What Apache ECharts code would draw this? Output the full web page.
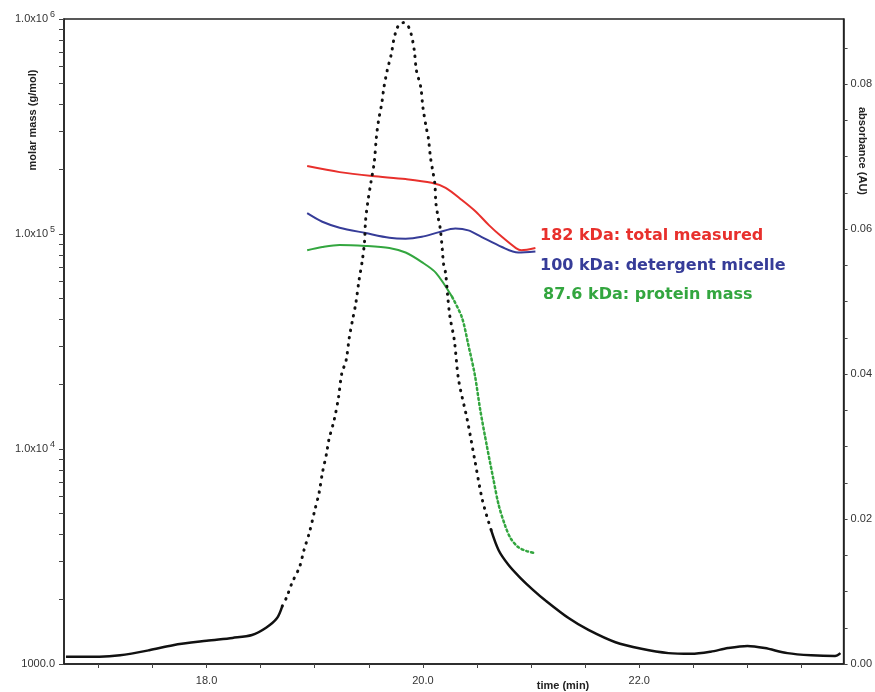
<!DOCTYPE html>
<html>
<head>
<meta charset="utf-8">
<script src="https://cdn.jsdelivr.net/npm/echarts@6/dist/echarts.min.js"></script>
<style>
html,body{margin:0;padding:0;background:#fff;}
#chart{width:875px;height:692px;}
</style>
</head>
<body>
<div id="chart"></div>
<script>
// ---- data ----
const timeAbs = [16.70,17.01,17.20,17.47,17.69,18.00,18.24,18.42,18.55,18.65,18.70,18.74,18.79,18.86,18.90,18.95,19.00,19.04,19.07,19.11,19.13,19.18,19.22,19.25,19.29,19.32,19.35,19.38,19.41,19.44,19.46,19.47,19.49,19.52,19.55,19.57,19.59,19.62,19.64,19.67,19.71,19.73,19.76,19.79,19.82,19.86,19.89,19.92,19.94,19.98,20.00,20.03,20.05,20.07,20.09,20.11,20.12,20.14,20.16,20.18,20.19,20.21,20.23,20.25,20.29,20.33,20.41,20.48,20.55,20.63,20.70,20.79,20.90,21.02,21.13,21.35,21.53,21.78,22.02,22.27,22.48,22.66,22.82,23.00,23.16,23.37,23.59,23.81,23.86];
const absorbance = [0.0010,0.0010,0.0012,0.0019,0.0026,0.0032,0.0036,0.0040,0.0050,0.0063,0.0080,0.0092,0.0112,0.0134,0.0157,0.0181,0.0212,0.0236,0.0263,0.0291,0.0309,0.0337,0.0368,0.0401,0.0419,0.0451,0.0475,0.0498,0.0530,0.0557,0.0582,0.0612,0.0637,0.0665,0.0692,0.0727,0.0750,0.0774,0.0796,0.0819,0.0843,0.0861,0.0877,0.0884,0.0885,0.0881,0.0870,0.0847,0.0819,0.0796,0.0768,0.0741,0.0726,0.0699,0.0681,0.0663,0.0636,0.0617,0.0601,0.0571,0.0553,0.0539,0.0506,0.0479,0.0447,0.0392,0.0337,0.0281,0.0226,0.0185,0.0157,0.0137,0.0119,0.0102,0.0088,0.0063,0.0047,0.0030,0.0021,0.0015,0.0014,0.0017,0.0022,0.0025,0.0022,0.0015,0.0012,0.0011,0.0015];

const timeTotal = [18.93,19.23,19.53,19.84,20.08,20.21,20.36,20.49,20.61,20.73,20.86,20.91,21.04];
const totalMass = [207000,194000,186000,180000,173000,164000,144000,127000,110000,97000,86000,84000,86000];

const timeMicelle = [18.93,19.07,19.23,19.47,19.69,19.84,19.99,20.15,20.30,20.42,20.54,20.73,20.88,21.04];
const micelleMass = [125000,114000,107000,101000,96000,95000,97000,102000,106000,104000,97000,87000,82000,83000];

const timeProtein = [18.93,19.07,19.23,19.47,19.69,19.84,19.99,20.12,20.27,20.36,20.42,20.48,20.53,20.59,20.65,20.70,20.76,20.81,20.88,20.96,21.04];
const proteinMass = [84000,87000,89000,88000,86000,82000,74000,66000,51000,41000,30500,22100,15200,10400,7300,5500,4400,3850,3500,3350,3280];

const xTickValues = [17.0,17.5,18.0,18.5,19.0,19.5,20.0,20.5,21.0,21.5,22.0,22.5,23.0,23.5];
const xLabelValues = [18.0,20.0,22.0];
const massTickValues = [1000,2000,3000,4000,5000,6000,7000,8000,9000,10000,20000,30000,40000,50000,60000,70000,80000,90000,100000,200000,300000,400000,500000,600000,700000,800000,900000,1000000];
const massLabelValues = [1000,10000,100000,1000000];
const absTickValues = [0,0.005,0.01,0.015,0.02,0.025,0.03,0.035,0.04,0.045,0.05,0.055,0.06,0.065,0.07,0.075,0.08,0.085];
const absLabelValues = [0,0.02,0.04,0.06,0.08];
const legendTexts = ['182 kDa: total measured','100 kDa: detergent micelle','87.6 kDa: protein mass'];

// ---- build ----
const DOT_START = 18.70, DOT_END = 20.63;
const absSolid = timeAbs.map((t,i)=> (t<=DOT_START || t>=DOT_END) ? [t, absorbance[i]] : [t, null]);
const absDotted = timeAbs.map((t,i)=> (t>=DOT_START && t<=DOT_END) ? [t, absorbance[i]] : [t, null]);
const P_DOT = 20.30;
const protSolid = timeProtein.map((t,i)=> t<=P_DOT ? [t, proteinMass[i]] : [t, null]);
const protDotted = timeProtein.map((t,i)=> t>=20.27 ? [t, proteinMass[i]] : [t, null]);
const zipPairs = (a,b)=> a.map((t,i)=>[t,b[i]]);

const RED='#e8302c', BLUE='#363c98', GREEN='#33a63f';
const FONT='Liberation Sans, Arial, sans-serif';

const chart = echarts.init(document.getElementById('chart'), null, {renderer:'canvas'});
chart.setOption({
  animation:false,
  backgroundColor:'#ffffff',
  grid:{left:64,right:29,top:19,bottom:28,show:true,borderColor:'#222',borderWidth:1.5,backgroundColor:'transparent'},
  xAxis:{
    type:'value', min:16.682, max:23.889,
    axisLine:{show:true,lineStyle:{color:'#222',width:1.5}},
    axisTick:{show:true,customValues:xTickValues,length:4,lineStyle:{color:'#444',width:1}},
    axisLabel:{customValues:xLabelValues,formatter:v=>Number(v).toFixed(1),fontSize:11,color:'#333',margin:11,fontFamily:FONT},
    splitLine:{show:false}
  },
  yAxis:[{
    type:'log', logBase:10, min:1000, max:1000000, position:'left',
    axisLine:{show:true,lineStyle:{color:'#222',width:1.5}},
    axisTick:{show:true,customValues:massTickValues,length:5,lineStyle:{color:'#444',width:1}},
    axisLabel:{customValues:massLabelValues,margin:9,color:'#333',fontFamily:FONT,fontSize:11,
      formatter:function(v){ if(v<=1000.5) return '1000.0'; return '{a|1.0x10}{e|'+Math.round(Math.log10(v))+'}'; },
      rich:{a:{fontSize:11,color:'#333',fontFamily:FONT},e:{fontSize:9,color:'#333',fontFamily:FONT,padding:[0,0,8,2]}}},
    splitLine:{show:false}
  },{
    type:'value', min:0, max:0.089, position:'right',
    axisLine:{show:true,lineStyle:{color:'#222',width:1.5}},
    axisTick:{show:true,customValues:absTickValues,length:4,lineStyle:{color:'#444',width:1}},
    axisLabel:{customValues:absLabelValues,formatter:v=>Number(v).toFixed(2),fontSize:11,color:'#333',margin:7,fontFamily:FONT},
    splitLine:{show:false}
  }],
  graphic:[
    {type:'text',x:33,y:120,rotation:Math.PI/2,style:{text:'molar mass (g/mol)',font:'bold 11px '+FONT,fill:'#222',align:'center',verticalAlign:'middle'}},
    {type:'text',x:862,y:151,rotation:-Math.PI/2,style:{text:'absorbance (AU)',font:'bold 11px '+FONT,fill:'#222',align:'center',verticalAlign:'middle'}},
    {type:'text',x:563,y:686,style:{text:'time (min)',font:'bold 11px '+FONT,fill:'#222',align:'center',verticalAlign:'middle'}},
    {type:'text',x:540,y:236,style:{text:legendTexts[0],font:'bold 16px DejaVu Sans',fill:RED,align:'left',verticalAlign:'middle'}},
    {type:'text',x:540,y:266,style:{text:legendTexts[1],font:'bold 16px DejaVu Sans',fill:BLUE,align:'left',verticalAlign:'middle'}},
    {type:'text',x:543,y:295,style:{text:legendTexts[2],font:'bold 16px DejaVu Sans',fill:GREEN,align:'left',verticalAlign:'middle'}}
  ],
  series:[
    {type:'line',yAxisIndex:0,data:zipPairs(timeTotal,totalMass),showSymbol:false,smooth:0.3,lineStyle:{color:RED,width:2},z:3},
    {type:'line',yAxisIndex:0,data:zipPairs(timeMicelle,micelleMass),showSymbol:false,smooth:0.3,lineStyle:{color:BLUE,width:2},z:3},
    {type:'line',yAxisIndex:0,data:protSolid,showSymbol:false,smooth:0.3,lineStyle:{color:GREEN,width:2},z:3},
    {type:'line',yAxisIndex:0,data:protDotted,showSymbol:false,smooth:0.3,lineStyle:{color:GREEN,width:2.5,type:[2,3],cap:'round'},z:3},
    {type:'line',yAxisIndex:1,data:absSolid,showSymbol:false,smooth:0.3,lineStyle:{color:'#111',width:2.5},z:4},
    {type:'line',yAxisIndex:1,data:absDotted,showSymbol:false,smooth:0.3,lineStyle:{color:'#111',width:3,type:[0.5,7],cap:'round'},z:4}
  ]
});
</script>
</body>
</html>
